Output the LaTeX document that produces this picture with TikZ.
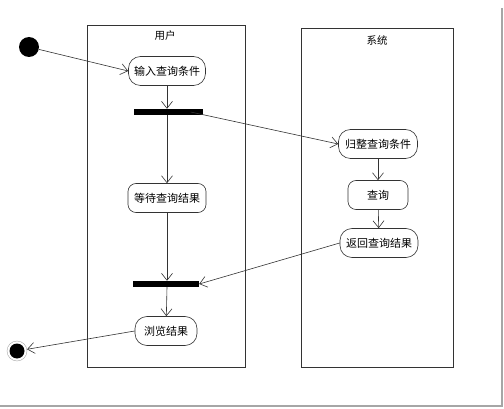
\documentclass[tikz,border=0pt]{standalone}
\usepackage{fontspec}
\newfontfamily\cjk{Noto Sans CJK SC}
\usetikzlibrary{arrows.meta}

\begin{document}
\begin{tikzpicture}[x=1pt, y=-1pt,
    act/.style={draw=black!80, semithick, rounded corners=12pt, minimum height=29pt, inner sep=2pt,
      font=\cjk\fontsize{11}{13}\selectfont},
    bar/.style={fill=black, minimum height=6pt, inner sep=0pt},
    flow/.style={draw=black!80, semithick, -{Straight Barb[length=7pt,width=11pt]}}]
    \useasboundingbox (0,0) rectangle (504,409);
    % shadow frame
    \draw[gray!70, line width=2pt] (502,8) -- (502,406) -- (0,406);
    % lanes
    \draw[black!80, semithick] (87,25) rectangle (245,367);
    \draw[black!80, semithick] (301,28) rectangle (453,367);
    \node[font=\cjk\fontsize{10.5}{12}\selectfont] (user) at (165,36) {用户};
    \node[font=\cjk\fontsize{10.5}{12}\selectfont] (system) at (377,40) {系统};
    % start and end
    \node[circle, fill=black, minimum size=20pt, inner sep=0pt] (start) at (29,47) {};
    \node[circle, draw=gray!70, minimum size=20pt, inner sep=0pt] (stop) at (17,351) {};
    \fill (stop) circle (7.5pt);
    % activities
    \node[act, minimum width=77pt] (input) at (167,71) {输入查询条件};
    \node[bar, minimum width=69pt] (fork) at (168,112) {};
    \node[act, minimum width=78pt, rounded corners=8pt] (wait) at (167,198) {等待查询结果};
    \node[bar, minimum width=66pt] (join) at (166,284) {};
    \node[act, minimum width=62pt] (browse) at (166,331) {浏览结果};
    \node[act, minimum width=79pt] (sort) at (378,144) {归整查询条件};
    \node[act, minimum width=60pt, rounded corners=8pt] (query) at (378,195) {查询};
    \node[act, minimum width=78pt] (result) at (379,243) {返回查询结果};
    % flows
    \draw[flow] (start) -- (input.west);
    \draw[flow] (input) -- (input |- fork.north);
    \draw[flow] (input |- fork.south) -- (wait);
    \draw[flow] ([xshift=-12pt]fork.east) -- (sort.west);
    \draw[flow] (sort) -- (query);
    \draw[flow] (query) -- (result);
    \draw[flow] (result.west) -- (join.east);
    \draw[flow] (wait) -- (wait |- join.north);
    \draw[flow] (wait |- join.south) -- (browse);
    \draw[flow] (browse.west) -- (stop);
\end{tikzpicture}
\end{document}
